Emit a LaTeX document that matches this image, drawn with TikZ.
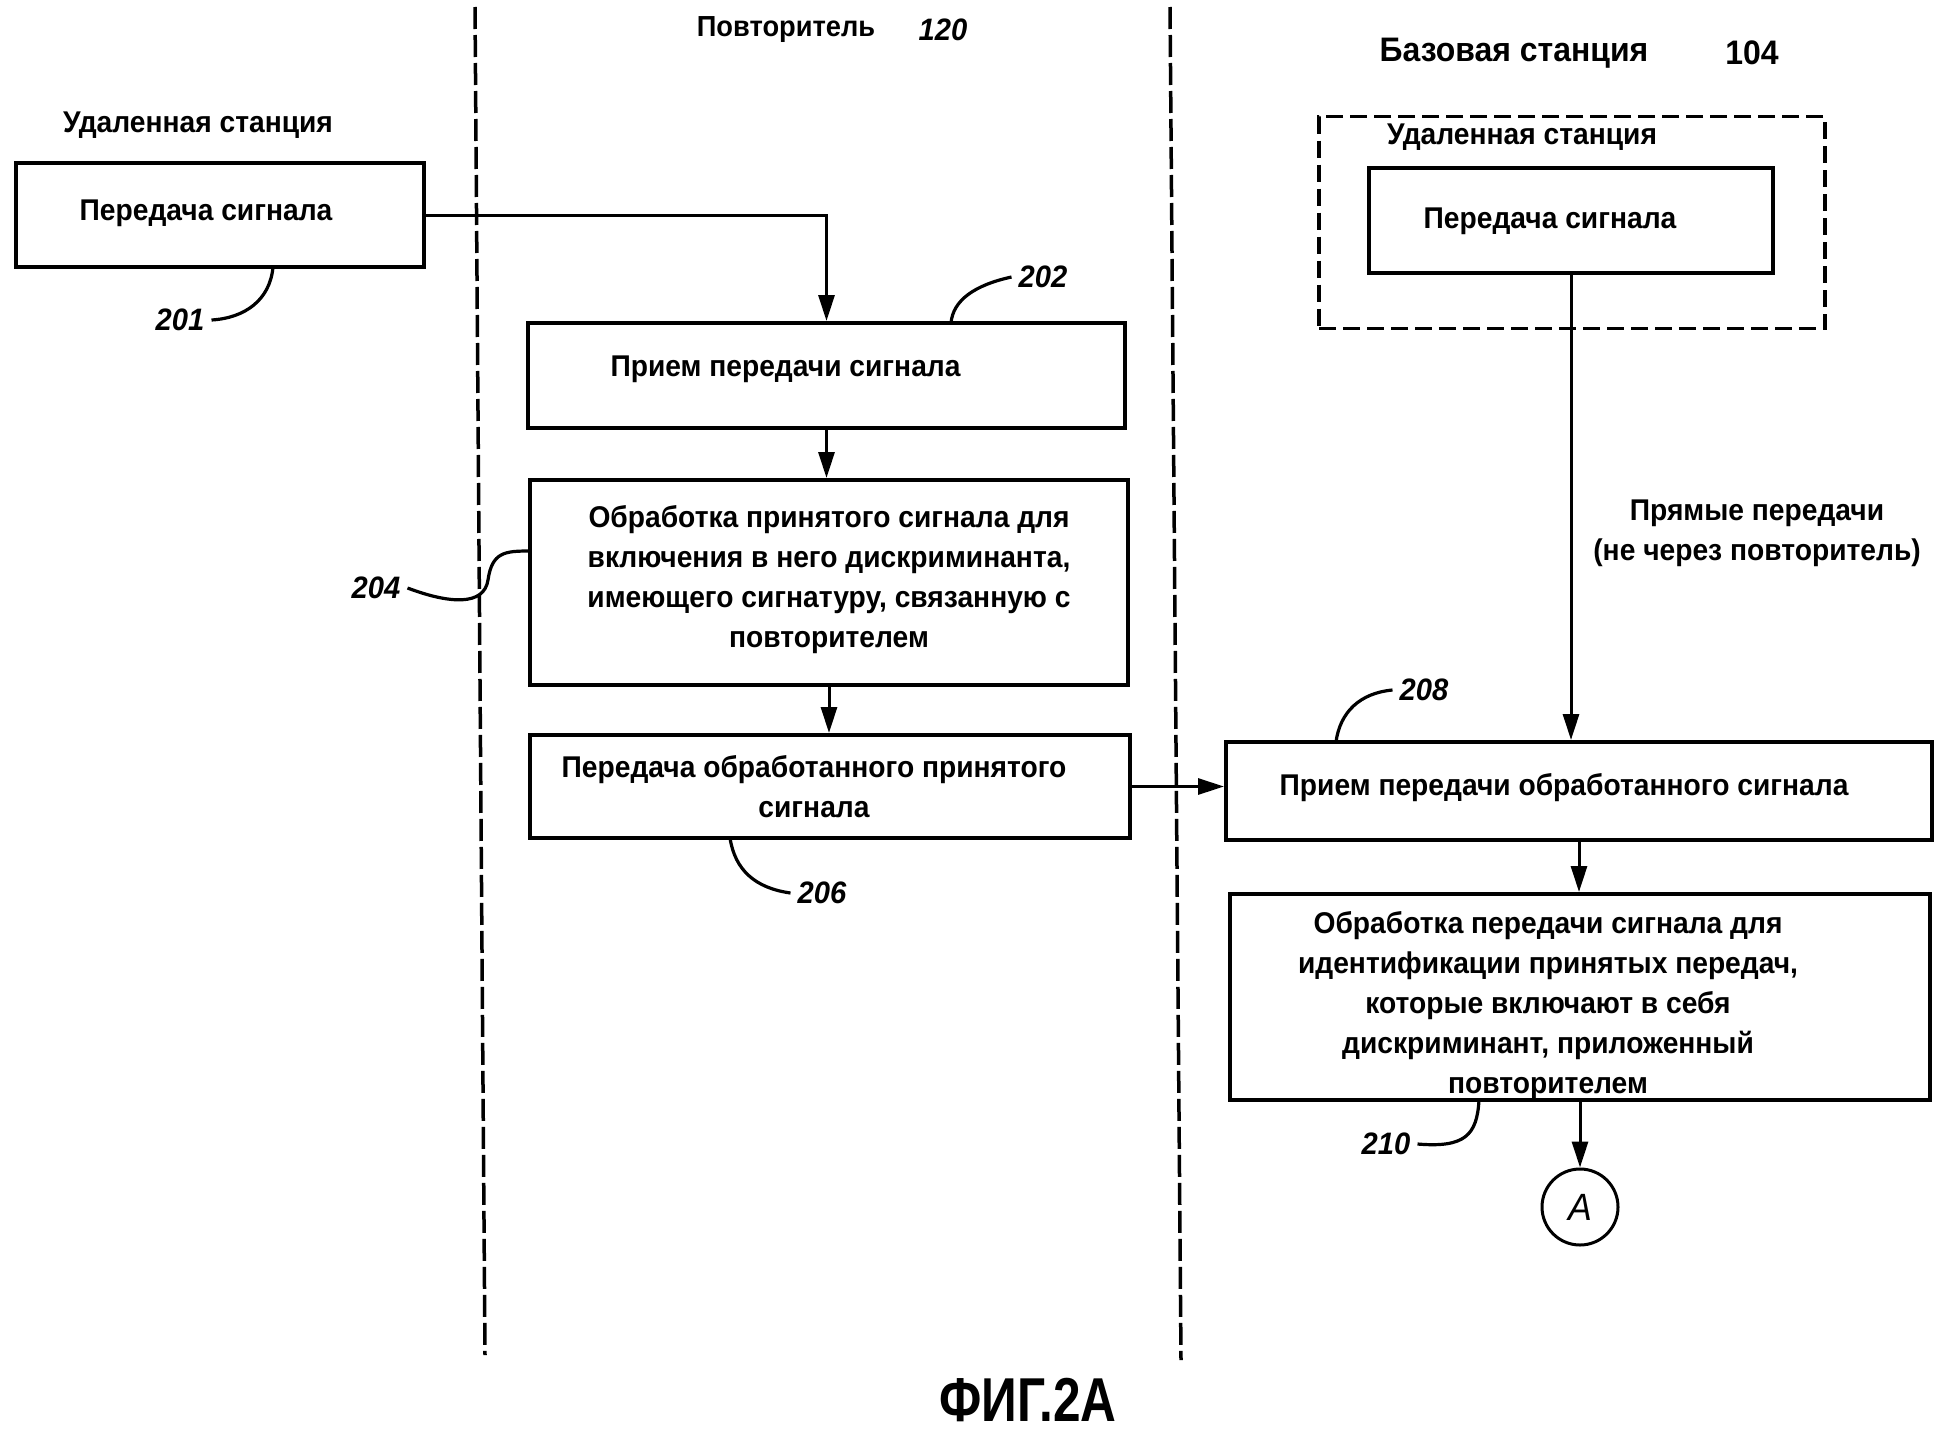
\documentclass[tikz,border=0pt]{standalone}
\usepackage{fontspec}
\setmainfont{Liberation Sans}[FakeStretch=0.94]
\newfontfamily\figfont{Liberation Sans}[FakeStretch=0.8]
\usetikzlibrary{arrows.meta}
\tikzset{
  box/.style={draw, line width=4pt, inner sep=0pt},
  dbox/.style={draw, line width=3.5pt, dash pattern=on 17pt off 7pt, inner sep=0pt},
  txt/.style={font=\fontsize{30}{40}\selectfont\bfseries, align=center, inner sep=0pt},
  head/.style={font=\fontsize{30}{34}\selectfont\bfseries, inner sep=0pt},
  bighead/.style={font=\fontsize{34}{40}\selectfont\bfseries, inner sep=0pt},
  num/.style={font=\fontsize{31}{34}\selectfont\bfseries\itshape, inner ysep=0pt, inner xsep=7pt},
  conn/.style={line width=3pt, -{Triangle[length=26pt,width=16pt]}},
  lead/.style={line width=3.2pt},
  sep/.style={line width=3.5pt, dash pattern=on 22pt off 6pt},
}
\begin{document}
\begin{tikzpicture}[x=1pt,y=1pt]
\useasboundingbox (0,0) rectangle (1948,-1435);

% lane separators
\coordinate (s1a) at (475,-7);  \coordinate (s1b) at (485,-1355);
\coordinate (s2a) at (1170,-7); \coordinate (s2b) at (1181,-1360);
\draw[sep] (s1a) -- (s1b);
\draw[sep] (s2a) -- (s2b);

% headers
\node[head] (hRS) at (198,-125) {Удаленная станция};
\node[head, font=\fontsize{29}{34}\selectfont\bfseries] (hRep) at (786,-30) {Повторитель};
\node[num] (n120) at (943,-30) {120};
\node[bighead] (hBS) at (1514,-53) {Базовая станция};
\node[bighead] (n104) at (1752,-53) {104};

% left remote station
\node[box, minimum width=408pt, minimum height=104pt,
  label={[txt, name=t201, xshift=-14pt, yshift=2pt]center:Передача сигнала}] (b201) at (220,-215) {};

% repeater column
\node[box, minimum width=597pt, minimum height=105pt,
  label={[txt, name=t202, xshift=-41pt, yshift=6pt]center:Прием передачи сигнала}] (b202) at (826.5,-375.5) {};
\node[box, minimum width=598pt, minimum height=205pt,
  label={[txt, name=t204, yshift=3pt]center:{Обработка принятого сигнала для\\ включения в него дискриминанта,\\ имеющего сигнатуру, связанную с\\ повторителем}}] (b204) at (829,-582.5) {};
\node[box, minimum width=600pt, minimum height=103pt,
  label={[txt, name=t206, xshift=-16pt]center:{Передача обработанного принятого\\ сигнала}}] (b206) at (830,-786.5) {};

% base station column
\node[dbox, minimum width=506pt, minimum height=212pt] (rsd) at (1572,-222.5) {};
\node[head] (hRS2) at (1522,-137) {Удаленная станция};
\node[box, minimum width=404pt, minimum height=105pt,
  label={[txt, name=trs, xshift=-21pt, yshift=-1pt]center:Передача сигнала}] (rs) at (1571,-220.5) {};

\node[txt] (direct) at (1757,-533) {Прямые передачи\\ (не через повторитель)};

\node[box, minimum width=706pt, minimum height=98pt,
  label={[txt, name=t208, xshift=-15pt, yshift=3pt]center:Прием передачи обработанного сигнала}] (b208) at (1579,-791) {};
\node[box, minimum width=700pt, minimum height=206pt,
  label={[txt, name=t210, xshift=-32pt, yshift=-9pt]center:{Обработка передачи сигнала для\\ идентификации принятых передач,\\ которые включают в себя\\ дискриминант, приложенный\\ повторителем}}] (b210) at (1580,-997) {};

\node[draw, circle, line width=3pt, minimum size=76pt, inner sep=0pt,
  font=\fontsize{38}{38}\selectfont\itshape] (A) at (1580,-1207) {A};

% connectors
\draw[conn] (b201.east) -| (b202.north);
\draw[conn] (b202.south) -- (b202.south |- b204.north);
\draw[conn] (b204.south) -- (b204.south |- b206.north);
\draw[conn] (b206.east) -- (b206.east -| b208.west);
\draw[conn] (rs.south) -- (rs.south |- b208.north);
\draw[conn] (b208.south) -- (b208.south |- b210.north);
\draw[conn] (b210.south) -- (A.north);

% reference numerals with leaders
\node[num] (n201) at (180,-320) {201};
\draw[lead] (n201.east) .. controls (245,-318) and (270,-300) .. (273,-267);
\node[num] (n202) at (1043,-277) {202};
\draw[lead] (n202.west) .. controls (975,-285) and (953,-300) .. (951,-323);
\node[num] (n204) at (376,-588) {204};
\draw[lead] (n204.east) .. controls (450,-604) and (484,-606) .. (488,-580)
  .. controls (492,-552) and (505,-551) .. (530,-551);
\node[num] (n206) at (822,-893) {206};
\draw[lead] (n206.west) .. controls (755,-888) and (735,-870) .. (730,-838);
\node[num] (n208) at (1424,-690) {208};
\draw[lead] (n208.west) .. controls (1360,-693) and (1340,-712) .. (1336,-742);
\node[num] (n210) at (1386,-1144) {210};
\draw[lead] (n210.east) .. controls (1465,-1148) and (1477,-1135) .. (1479,-1100);

% figure caption
\node[inner sep=0pt, font=\figfont\fontsize{62}{64}\selectfont\bfseries] (fig) at (1028,-1400) {ФИГ.2А};
\end{tikzpicture}
\end{document}
